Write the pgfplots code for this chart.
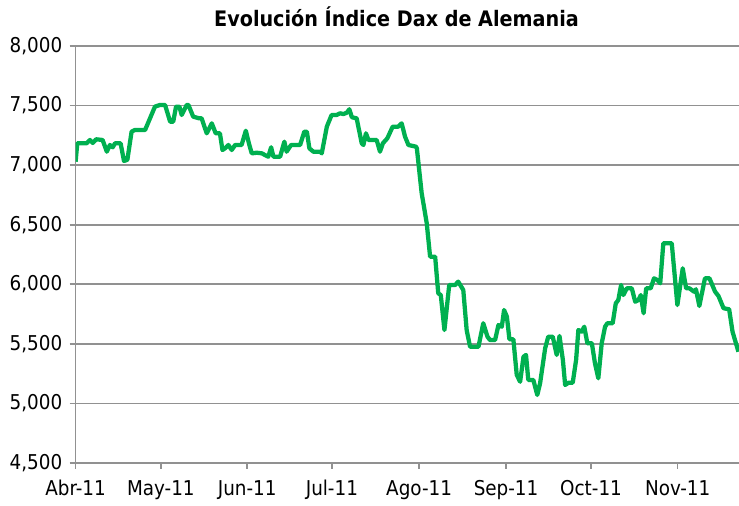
\documentclass[border=0pt]{standalone}
\usepackage{pgfplots}
\pgfplotsset{compat=1.18}
\usepackage{fontspec}
\setmainfont{DejaVu Sans Condensed}
\definecolor{dgreen}{RGB}{0,176,80}
\definecolor{gridgray}{RGB}{145,145,145}
\begin{document}
\begin{tikzpicture}
\path[use as bounding box] (-56.7pt,-32.25pt) rectangle (497.55pt,347.25pt);
\begin{axis}[
  scale only axis,
  width=497.55pt, height=312.75pt,
  at={(0,0)}, anchor=south west,
  xmin=0, xmax=235.8,
  ymin=4500, ymax=8000,
  ytick={4500,5000,...,8000},
  xtick={0,30.3,61,91.1,122.1,153,183.2,214},
  xticklabels={Abr-11,May-11,Jun-11,Jul-11,Ago-11,Sep-11,Oct-11,Nov-11},
  axis x line*=bottom, axis y line*=left,
  axis line style={gridgray, line width=1.2pt, -},
  ymajorgrids, grid style={gridgray, line width=1.2pt},
  tick style={gridgray, line width=1.2pt},
  tick align=outside,
  major tick length=4.5pt,
  /pgf/number format/assume math mode=true,
  /pgf/number format/.cd, fixed, 1000 sep={,},
  /pgfplots/.cd,
  tick label style={font=\fontsize{15.3pt}{18pt}\selectfont, black},
  yticklabel style={xshift=-2pt},
  xticklabel style={yshift=-5pt},
  clip mode=individual,
]
\addplot[dgreen, line width=3.2pt, line join=round] coordinates {
(0,7029) (0.6,7183) (3.9,7183) (5.1,7211) (6.1,7186) (7.3,7217) (9.6,7211)
(11.1,7113) (12.2,7169) (13.2,7150) (14.0,7183) (16.0,7183) (17.2,7035) (18.4,7045)
(19.9,7281) (21.1,7295) (24.7,7295) (28.2,7491) (30.0,7505) (31.8,7505) (33.6,7365)
(34.7,7365) (35.7,7491) (36.9,7491) (37.7,7421) (39.5,7505) (40.1,7505) (41.8,7407)
(43.9,7393) (44.8,7393) (46.6,7267) (48.4,7351) (49.8,7267) (51.3,7267) (52.2,7127)
(53.1,7141) (54.3,7169) (55.5,7127) (56.7,7169) (59.0,7169) (60.5,7289) (61.6,7183)
(62.6,7099) (64.4,7104) (66.2,7099) (67.3,7085) (68.5,7071) (69.5,7150) (70.3,7071)
(72.7,7071) (74.2,7197) (75.0,7113) (76.6,7169) (79.8,7169) (81.3,7281) (82.2,7281)
(83.1,7141) (84.5,7113) (86.9,7113) (87.5,7099) (89.3,7323) (91.0,7421) (92.8,7421)
(94.0,7435) (95.2,7429) (96.4,7440) (97.3,7469) (98.2,7402) (99.9,7393) (101.7,7183)
(102.3,7169) (103.2,7267) (104.1,7211) (107.0,7211) (108.2,7113) (109.2,7183) (110.8,7225)
(112.7,7323) (114.7,7323) (115.9,7351) (117.1,7239) (118.3,7169) (121.0,7155) (121.3,7141)
(123.0,6766) (124.8,6514) (126.0,6232) (127.8,6232) (128.9,5924) (129.8,5910) (131.1,5616)
(132.8,5994) (134.9,5994) (136.0,6022) (137.8,5952) (139.0,5616) (140.2,5476) (143.2,5476)
(144.9,5673) (146.4,5560) (147.3,5532) (149.1,5532) (150.3,5658) (151.5,5644) (152.3,5784)
(153.3,5728) (154.2,5538) (155.6,5538) (156.8,5239) (158.0,5182) (159.2,5392) (160.1,5407)
(160.9,5197) (162.7,5197) (164.1,5071) (165.1,5169) (166.9,5463) (168.0,5560) (169.6,5560)
(171.0,5407) (172.0,5566) (173.2,5365) (174.0,5155) (175.2,5174) (176.7,5174) (177.9,5365)
(178.7,5616) (179.9,5602) (180.8,5644) (181.9,5505) (183.5,5505) (184.6,5337) (185.8,5211)
(187.0,5505) (188.2,5644) (189.0,5673) (190.9,5673) (192.0,5840) (192.9,5868) (193.9,5994)
(194.7,5910) (195.9,5966) (197.7,5966) (198.9,5854) (200.1,5868) (200.9,5910) (201.9,5757)
(202.8,5966) (204.4,5966) (205.6,6050) (206.8,6036) (207.8,6008) (208.9,6344) (211.9,6344)
(213.9,5826) (215.8,6134) (217.0,5966) (218.2,5966) (219.8,5938) (220.5,5958) (221.7,5818)
(223.7,6050) (225.3,6050) (227.3,5938) (228.5,5902) (230.3,5799) (232.3,5790) (233.5,5602)
(235.6,5434)
};
\end{axis}
\node[anchor=base, font=\fontsize{16pt}{19pt}\selectfont\bfseries] at (240.7pt,327pt) {Evolución Índice Dax de Alemania};
\end{tikzpicture}
\end{document}
